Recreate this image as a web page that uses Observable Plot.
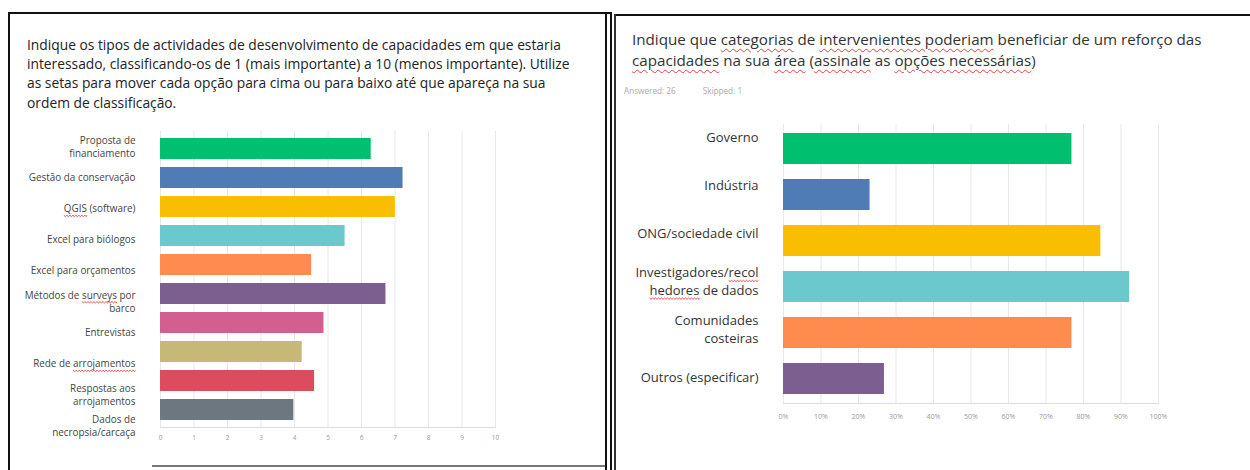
<!DOCTYPE html>
<html><head><meta charset="utf-8">
<script src="https://cdn.jsdelivr.net/npm/d3@7"></script>
<script src="https://cdn.jsdelivr.net/npm/@observablehq/plot@0.6"></script>
<style>
body{margin:0;background:#fff;}
#page{position:relative;width:1250px;height:470px;overflow:hidden;font-family:"Open Sans",sans-serif;background:#fff;}
.ln{position:absolute;}
.abs{position:absolute;left:0;top:0;}
.title{position:absolute;white-space:nowrap;}
.sq{text-decoration:underline wavy #e8403a;text-decoration-thickness:1px;text-underline-offset:3px;}
</style></head><body>
<div id="page">
  <div class="ln" style="left:8px;top:12px;width:604px;height:2px;background:#111"></div>
  <div class="ln" style="left:8px;top:12px;width:2px;height:458px;background:#111"></div>
  <div class="ln" style="left:605px;top:12px;width:2px;height:458px;background:#111"></div>
  <div class="ln" style="left:610px;top:12px;width:2px;height:458px;background:#111"></div>
  <div class="ln" style="left:152px;top:465px;width:453px;height:2px;background:#777"></div>
  <div class="ln" style="left:614px;top:14px;width:636px;height:2px;background:#111"></div>
  <div class="ln" style="left:614px;top:14px;width:2px;height:456px;background:#333"></div>

  <div class="title" style="left:27px;top:35px;font-size:13.8px;line-height:19.2px;color:#222;">
    Indique os tipos de actividades de desenvolvimento de capacidades em que estaria<br>
    interessado, classificando-os de 1 (mais importante) a 10 (menos importante). Utilize<br>
    as setas para mover cada opção para cima ou para baixo até que apareça na sua<br>
    ordem de classificação.
  </div>
  <div class="title" style="left:632px;top:29px;font-size:15.2px;line-height:20.5px;color:#333;">
    Indique que <span class="sq">categorias</span> de <span class="sq">intervenientes poderiam</span> beneficiar de um reforço das<br>
    <span class="sq">capacidades</span> na sua <span class="sq">área</span> (<span class="sq">assinale</span> as <span class="sq">opções necessárias</span>)
  </div>
  <div class="title" id="answered" style="left:624px;top:84.5px;font-size:8.2px;line-height:11px;color:#aaa;"></div>
  <div id="plots"></div>
</div>
<script>
// ---------- Left chart data (average ranking score) ----------
const leftCategories = ["Proposta de financiamento", "Gestão da conservação", "QGIS (software)", "Excel para biólogos", "Excel para orçamentos", "Métodos de surveys por barco", "Entrevistas", "Rede de arrojamentos", "Respostas aos arrojamentos", "Dados de necropsia/carcaça"];
const leftLabelLines = ["Proposta de\nfinanciamento", "Gestão da conservação", "QGIS (software)", "Excel para biólogos", "Excel para orçamentos", "Métodos de surveys por\nbarco", "Entrevistas", "Rede de arrojamentos", "Respostas aos\narrojamentos", "Dados de\nnecropsia/carcaça"];
const leftScores = [6.29, 7.24, 7.01, 5.51, 4.51, 6.73, 4.88, 4.23, 4.60, 3.98];
const leftColors = ["#00BF6F", "#507CB6", "#F9BE00", "#6BC8CD", "#FF8B4F", "#7D5E90", "#D25F90", "#C8B878", "#DB4D5C", "#6C7780"];
const leftTicks = [0, 1, 2, 3, 4, 5, 6, 7, 8, 9, 10];

// ---------- Right chart data (share of respondents) ----------
const rightCategories = ["Governo", "Indústria", "ONG/sociedade civil", "Investigadores/recolhedores de dados", "Comunidades costeiras", "Outros (especificar)"];
const rightLabelLines = ["Governo", "Indústria", "ONG/sociedade civil", "Investigadores/recol\nhedores de dados", "Comunidades\ncosteiras", "Outros (especificar)"];
const rightShares = [0.7692, 0.2308, 0.8462, 0.9231, 0.7692, 0.2692];
const rightColors = ["#00BF6F", "#507CB6", "#F9BE00", "#6BC8CD", "#FF8B4F", "#7D5E90"];
const rightTicks = [0, 0.1, 0.2, 0.3, 0.4, 0.5, 0.6, 0.7, 0.8, 0.9, 1];
const answered = 26, skipped = 1;

// squiggly spell-check underlines on some label words
const squiggleWords = {"QGIS (software)": "QGIS", "Métodos de surveys por": "surveys", "Rede de arrojamentos": "arrojamentos", "Investigadores/recol": "recol", "hedores de dados": "hedores"};

document.getElementById("answered").innerHTML = `Answered: ${answered}<span style="margin-left:27px">Skipped: ${skipped}</span>`;

const leftData = leftCategories.map((c, i) => ({category: c, score: leftScores[i]}));
const rightData = rightCategories.map((c, i) => ({category: c, share: rightShares[i]}));
const baseStyle = {background: "transparent", fontFamily: "Open Sans", maxWidth: "none", overflow: "visible"};
const NS = "http://www.w3.org/2000/svg";

function squiggle(svg) {
  svg.querySelectorAll("text").forEach(text => {
    const leaves = text.children.length ? Array.from(text.querySelectorAll("tspan")) : [text];
    leaves.forEach(el => {
      const t = el.textContent;
      const w = squiggleWords[t];
      if (!w) return;
      const k = t.indexOf(w);
      const p0 = el.getStartPositionOfChar(k);
      const len = el.getSubStringLength(k, w.length);
      const y = p0.y + 3;
      let d = `M${p0.x},${y}`;
      for (let x = 0, j = 0; x < len; x += 1.5, j++) d += `L${p0.x + Math.min(x + 1.5, len)},${y + (j % 2 ? 0 : 1.3)}`;
      const path = document.createElementNS(NS, "path");
      path.setAttribute("d", d);
      path.setAttribute("fill", "none");
      path.setAttribute("stroke", "#e8403a");
      path.setAttribute("stroke-width", "0.9");
      const tr = text.getAttribute("transform");
      if (tr) path.setAttribute("transform", tr);
      text.parentNode.appendChild(path);
    });
  });
}

function place(svg) {
  svg.classList.add("abs");
  document.getElementById("plots").appendChild(svg);
  return svg;
}

// Left bars
place(Plot.plot({
  width: 610, height: 470,
  marginLeft: 160, marginRight: 115, marginTop: 131, marginBottom: 43,
  style: baseStyle,
  x: {domain: [0, 10]},
  y: {domain: leftCategories, paddingInner: 0.27, paddingOuter: 0.135, axis: null},
  color: {domain: leftCategories, range: leftColors},
  marks: [
    Plot.gridX(leftTicks, {stroke: "#e8e8e8", strokeOpacity: 1}),
    Plot.frame({anchor: "bottom", stroke: "#dcdcdc"}),
    Plot.barX(leftData, {x: "score", y: "category", fill: "category"}),
    Plot.axisX(leftTicks, {tickSize: 0, tickPadding: 8, fontSize: 6.5, fill: "#999", label: null})
  ]
}));

// Left labels (drawn on their own band scale, as in the screenshot)
const ll = place(Plot.plot({
  width: 610, height: 470,
  marginLeft: 0, marginRight: 475, marginTop: 129, marginBottom: 30,
  style: baseStyle,
  x: {axis: null},
  y: {type: "band", domain: leftCategories, padding: 0, axis: null},
  marks: [
    Plot.text(leftCategories, {y: d => d, text: (d, i) => leftLabelLines[i], frameAnchor: "right", textAnchor: "end", fontSize: 9.9, fill: "#444", lineHeight: 1.35})
  ]
}));
squiggle(ll);

// Right bars
place(Plot.plot({
  width: 1250, height: 470,
  marginLeft: 783, marginRight: 92, marginTop: 124, marginBottom: 67,
  style: baseStyle,
  x: {domain: [0, 1]},
  y: {domain: rightCategories, paddingInner: 0.32, paddingOuter: 0.16, axis: null},
  color: {domain: rightCategories, range: rightColors},
  marks: [
    Plot.gridX(rightTicks, {stroke: "#e8e8e8", strokeOpacity: 1}),
    Plot.frame({anchor: "bottom", stroke: "#dcdcdc"}),
    Plot.barX(rightData, {x: "share", y: "category", fill: "category"}),
    Plot.axisX(rightTicks, {tickSize: 0, tickPadding: 11, fontSize: 7, fill: "#999", tickFormat: d3.format(".0%"), label: null})
  ]
}));

// Right labels
const rl = place(Plot.plot({
  width: 1250, height: 470,
  marginLeft: 0, marginRight: 492, marginTop: 111.5, marginBottom: 69,
  style: baseStyle,
  x: {axis: null},
  y: {type: "band", domain: rightCategories, padding: 0, axis: null},
  marks: [
    Plot.text(rightCategories, {y: d => d, text: (d, i) => rightLabelLines[i], frameAnchor: "right", textAnchor: "end", fontSize: 13, fill: "#333", lineHeight: 1.36})
  ]
}));
squiggle(rl);
</script>
</body></html>
